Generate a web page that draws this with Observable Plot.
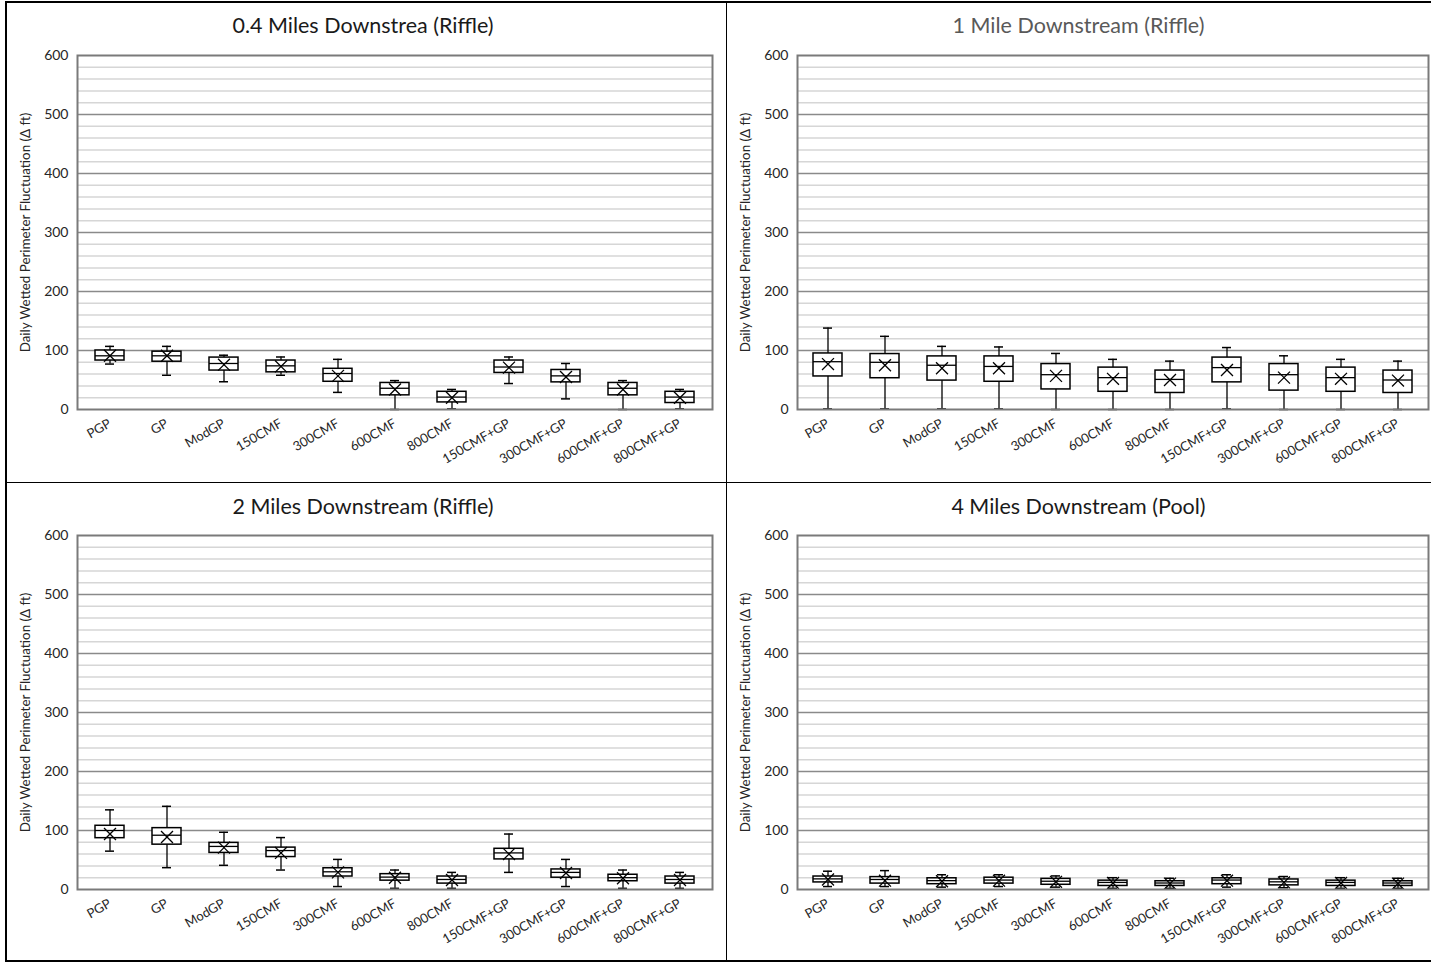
<!DOCTYPE html>
<html><head><meta charset="utf-8">
<script src="https://cdn.jsdelivr.net/npm/d3@7"></script>
<script src="https://cdn.jsdelivr.net/npm/@observablehq/plot@0.6"></script>
<style>
body{margin:0;background:#fff;}
#wrap{position:relative;width:1431px;height:963px;overflow:hidden;font-family:Lato,"Open Sans",sans-serif;background:#fff;}
.panel{position:absolute;}
.title{position:absolute;left:0;right:0;text-align:center;font-size:21.5px;line-height:28px;}
.line{position:absolute;background:#000;}
svg{position:absolute;left:0;top:0;overflow:visible;}
</style></head><body>
<div id="wrap"></div>
<script>
const categories = ["PGP","GP","ModGP","150CMF","300CMF","600CMF","800CMF","150CMF+GP","300CMF+GP","600CMF+GP","800CMF+GP"];
const yTicks = [0,100,200,300,400,500,600];
const minorTicks = [20,40,60,80,120,140,160,180,220,240,260,280,320,340,360,380,420,440,460,480,520,540,560,580];
const majorTicks = [100,200,300,400,500];
const yLabel = "Daily Wetted Perimeter Fluctuation (\u0394 ft)";
const titles = ["0.4 Miles Downstrea (Riffle)","1 Mile Downstream (Riffle)","2 Miles Downstream (Riffle)","4 Miles Downstream (Pool)"];

// Panel 1: 0.4 Miles
const p1Max    = [107,107,92,89,85,49,34,89,78,49,34];
const p1Q3     = [100,98,88,83,69,45,30,83,67,45,30];
const p1Median = [91,91,78,74,61,36,21,72,57,36,21];
const p1Q1     = [83,81,66,63,47,24,12,62,46,24,11];
const p1Min    = [77,58,47,58,29,0,1,44,18,0,1];
const p1Mean   = [91,91,76,73,57,34,20,71,55,34,20];

// Panel 2: 1 Mile
const p2Max    = [138,124,107,106,95,85,82,105,91,85,82];
const p2Q3     = [95,94,90,90,77,71,66,88,77,71,66];
const p2Median = [81,80,75,73,59,54,51,71,59,54,50];
const p2Q1     = [56,53,49,47,34,30,28,46,32,30,28];
const p2Min    = [1,1,1,1,0,0,0,1,0,0,0];
const p2Mean   = [77,75,70,70,57,52,50,67,54,52,49];

// Panel 3: 2 Miles
const p3Max    = [135,141,97,88,51,33,29,94,51,33,29];
const p3Q3     = [108,104,79,71,36,26,22,69,34,25,22];
const p3Median = [100,92,73,66,30,21,17,62,29,20,17];
const p3Q1     = [87,76,62,55,22,15,10,51,20,14,10];
const p3Min    = [65,37,41,33,5,2,2,29,5,2,2];
const p3Mean   = [94,89,71,62,29,20,16,60,28,19,16];

// Panel 4: 4 Miles
const p4Max    = [31,32,25,25,23,20,19,25,22,20,19];
const p4Q3     = [22,21,19,20,18,15,14,19,17,15,14];
const p4Median = [18,17,15,16,14,12,11,16,13,12,11];
const p4Q1     = [12,10,9,10,8,6,6,9,7,6,6];
const p4Min    = [5,5,4,5,4,2,2,4,3,2,2];
const p4Mean   = [17,15,14,15,13,11,10,15,12,11,10];

const series = [
  [p1Max,p1Q3,p1Median,p1Q1,p1Min,p1Mean],
  [p2Max,p2Q3,p2Median,p2Q1,p2Min,p2Mean],
  [p3Max,p3Q3,p3Median,p3Q1,p3Min,p3Mean],
  [p4Max,p4Q3,p4Median,p4Q1,p4Min,p4Mean]
];

const layout = [
  {left:0,   top:0,   width:726, height:482, mL:77, mR:14, mT:55, mB:73, titleTop:11, color:"#1a1a1a"},
  {left:726, top:0,   width:705, height:482, mL:71, mR:3,  mT:55, mB:73, titleTop:11, color:"#595959"},
  {left:0,   top:482, width:726, height:481, mL:77, mR:14, mT:53, mB:74, titleTop:10, color:"#1a1a1a"},
  {left:726, top:482, width:705, height:481, mL:71, mR:3,  mT:53, mB:74, titleTop:10, color:"#1a1a1a"}
];

const wrap = document.getElementById("wrap");

layout.forEach((L, i) => {
  const [mx,q3,md,q1,mn,me] = series[i];
  const data = categories.map((c, j) => ({cat:c, max:mx[j], q3:q3[j], median:md[j], q1:q1[j], min:mn[j], mean:me[j]}));
  const panel = document.createElement("div");
  panel.className = "panel";
  panel.style.left = L.left + "px";
  panel.style.top = L.top + "px";
  panel.style.width = L.width + "px";
  panel.style.height = L.height + "px";
  const t = document.createElement("div");
  t.className = "title";
  t.style.top = L.titleTop + "px";
  t.style.color = L.color;
  t.textContent = titles[i];
  panel.appendChild(t);

  const chart = Plot.plot({
    width: L.width,
    height: L.height,
    marginLeft: L.mL,
    marginRight: L.mR,
    marginTop: L.mT,
    marginBottom: L.mB,
    style: {fontFamily: "Lato, 'Open Sans', sans-serif", background: "transparent", color: "#222"},
    x: {type: "band", domain: categories, padding: 0, label: null},
    y: {domain: [0, 600], label: null},
    marks: [
      Plot.ruleY(minorTicks, {stroke: "#d6d6d6", strokeWidth: 1.5}),
      Plot.ruleY(majorTicks, {stroke: "#8a8a8a", strokeWidth: 1.5}),
      Plot.ruleX(data, {x: "cat", y1: "min", y2: "max", stroke: "#000", strokeWidth: 1.3}),
      Plot.tickY(data, {x: "cat", y: "max", stroke: "#000", strokeWidth: 1.5, insetLeft: 24, insetRight: 24}),
      Plot.tickY(data, {x: "cat", y: "min", stroke: "#000", strokeWidth: 1.5, insetLeft: 24, insetRight: 24}),
      Plot.barY(data, {x: "cat", y1: "q1", y2: "q3", fill: "#fff", stroke: "#000", strokeWidth: 1.5, insetLeft: 14, insetRight: 14}),
      Plot.tickY(data, {x: "cat", y: "median", stroke: "#000", strokeWidth: 1.3, insetLeft: 14, insetRight: 14}),
      Plot.dot(data, {x: "cat", y: "mean", symbol: "times", r: 5.5, stroke: "#000", strokeWidth: 1.3}),
      Plot.frame({stroke: "#7a7a7a", strokeWidth: 2}),
      Plot.axisY({ticks: yTicks, tickSize: 0, tickPadding: 9, fontSize: 14, label: null, fill: "#262626"}),
      Plot.axisX({tickSize: 0, tickPadding: 13, tickRotate: -30, fontSize: 13, label: null, fill: "#262626"}),
      Plot.text([yLabel], {text: d => d, frameAnchor: "left", textAnchor: "middle", rotate: -90, dx: -52, fontSize: 13.4, fill: "#262626", lineAnchor: "middle"})
    ]
  });
  panel.appendChild(chart);
  wrap.appendChild(panel);
});

function addLine(x, y, w, h) {
  const d = document.createElement("div");
  d.className = "line";
  d.style.left = x + "px"; d.style.top = y + "px";
  d.style.width = w + "px"; d.style.height = h + "px";
  wrap.appendChild(d);
}
addLine(5, 1, 1426, 1.5);     // top
addLine(5, 1, 1.5, 960);      // left
addLine(5, 960, 1426, 1.5);   // bottom
addLine(725.5, 1, 1.5, 960);  // vertical divider
addLine(5, 481.5, 1426, 1.5); // horizontal divider
</script>
</body></html>
